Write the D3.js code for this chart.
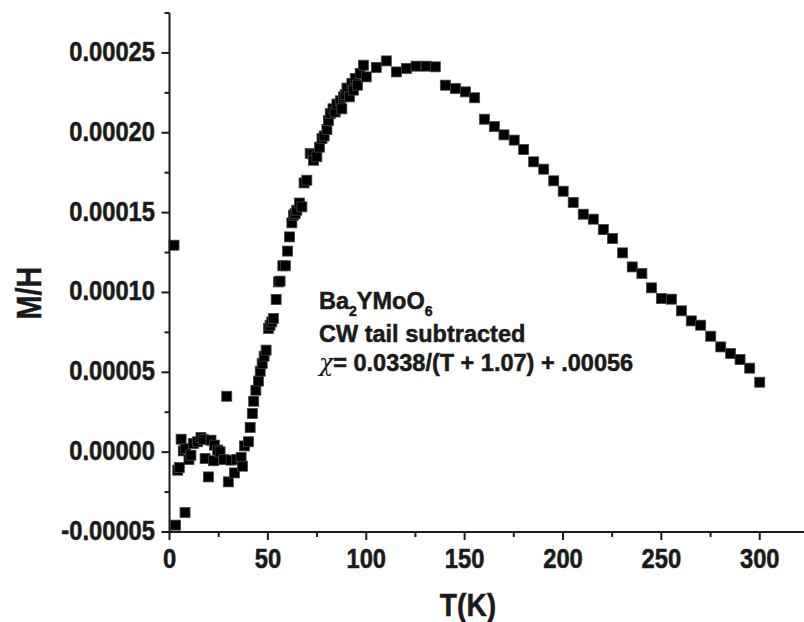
<!DOCTYPE html>
<html><head><meta charset="utf-8">
<script src="https://cdn.jsdelivr.net/npm/d3@7"></script>
<style>html,body{margin:0;padding:0;background:#fff}svg{display:block}text{font-family:"Liberation Sans",Arial,sans-serif;font-weight:bold;fill:#1a1a1a;stroke:#1a1a1a;stroke-width:0.5px}</style>
</head><body>
<script>
// Temperature (K)
const temps = [2.3,3.1,4.2,5.0,5.9,7.0,7.9,8.2,9.9,10.9,12.1,14.3,16.0,17.2,18.1,19.8,21.1,22.3,22.8,24.5,25.7,27.6,29.1,29.9,31.3,33.0,34.2,36.4,37.1,38.1,40.1,41.0,42.1,42.8,43.9,45.2,46.1,47.1,48.1,49.1,50.3,51.1,52.0,52.8,54.2,55.4,56.2,57.6,58.9,60.0,61.0,62.2,63.0,63.9,64.7,66.1,67.3,68.4,69.8,71.5,72.9,73.2,74.9,76.2,77.5,78.6,80.0,80.8,81.7,83.1,84.2,85.1,86.8,87.6,88.4,89.3,90.2,91.5,92.7,93.5,94.4,95.6,96.9,98.6,100.0,105.1,110.2,115.3,120.4,125.3,130.4,135.1,140.2,145.3,150.4,155.1,160.1,165.1,170.0,175.2,180.0,185.1,190.2,195.3,200.1,205.2,210.3,215.4,220.5,225.2,230.3,235.2,240.1,245.0,250.0,255.1,260.2,265.2,270.0,275.1,280.2,285.2,290.0,294.9,300.0];
// M/H values
const mh = [12.96e-5,-4.57e-5,-1.13e-5,-0.96e-5,0.81e-5,0.08e-5,-3.78e-5,0.23e-5,-0.46e-5,-0.19e-5,0.54e-5,0.65e-5,0.92e-5,0.80e-5,-0.40e-5,-1.55e-5,0.75e-5,-0.54e-5,0.44e-5,0.13e-5,0.02e-5,-0.46e-5,3.50e-5,-1.86e-5,-0.50e-5,-1.30e-5,-0.46e-5,-0.33e-5,-0.88e-5,0.39e-5,0.65e-5,1.55e-5,2.42e-5,3.19e-5,3.88e-5,4.45e-5,5.07e-5,5.55e-5,6.01e-5,6.39e-5,7.75e-5,7.95e-5,8.16e-5,8.37e-5,9.56e-5,10.66e-5,10.71e-5,11.67e-5,11.67e-5,12.59e-5,13.48e-5,14.36e-5,14.84e-5,14.95e-5,15.15e-5,15.60e-5,15.36e-5,16.86e-5,17.03e-5,18.70e-5,18.66e-5,18.28e-5,18.50e-5,19.10e-5,19.64e-5,19.80e-5,20.20e-5,20.77e-5,21.20e-5,21.50e-5,21.30e-5,21.80e-5,22.00e-5,21.50e-5,22.25e-5,22.40e-5,22.80e-5,22.25e-5,23.09e-5,22.67e-5,23.40e-5,22.98e-5,23.71e-5,24.23e-5,23.50e-5,24.09e-5,24.50e-5,23.81e-5,24.03e-5,24.17e-5,24.17e-5,24.13e-5,22.98e-5,22.77e-5,22.56e-5,22.19e-5,20.85e-5,20.39e-5,19.87e-5,19.54e-5,18.95e-5,18.18e-5,17.72e-5,16.99e-5,16.34e-5,15.64e-5,14.90e-5,14.59e-5,13.94e-5,13.38e-5,12.48e-5,11.60e-5,11.19e-5,10.29e-5,9.62e-5,9.58e-5,8.85e-5,8.22e-5,7.95e-5,7.26e-5,6.59e-5,6.18e-5,5.80e-5,5.26e-5,4.38e-5];
const xTicks = [0,50,100,150,200,250,300];
const xMinor = [25,75,125,175,225,275];
const yTicks = [-0.00005,0,0.00005,0.0001,0.00015,0.0002,0.00025];
const yTickLabels = ["-0.00005","0.00000","0.00005","0.00010","0.00015","0.00020","0.00025"];
const yMinor = [-0.000025,0.000025,0.000075,0.000125,0.000175,0.000225,0.000275];
const xDomain = [0, 322.5];
const yDomain = [-0.00005, 0.000275];

const W = 804, H = 622;
const svg = d3.select("body").append("svg").attr("width", W).attr("height", H);
const x = d3.scaleLinear().domain(xDomain).range([169.5, 804]);
const y = d3.scaleLinear().domain(yDomain).range([532, 13]);

// points
const data = temps.map((t,i)=>({t, v: mh[i]}));
const S = 10;
svg.append("g").selectAll("rect").data(data).join("rect")
  .attr("x", d => x(d.t) - S/2).attr("y", d => y(d.v) - S/2)
  .attr("width", S).attr("height", S)
  .attr("fill", "#000").attr("stroke", "#444").attr("stroke-width", 0.8);

// axes
const ax = svg.append("g").attr("stroke", "#1a1a1a").attr("stroke-width", 2);
ax.append("line").attr("x1", x(0)).attr("x2", W).attr("y1", y(yDomain[0])).attr("y2", y(yDomain[0]));
ax.append("line").attr("x1", x(0)).attr("x2", x(0)).attr("y1", y(yDomain[1])).attr("y2", y(yDomain[0]));
ax.selectAll(".xt").data(xTicks).join("line").attr("class","xt").attr("x1", d=>x(d)).attr("x2", d=>x(d)).attr("y1", y(yDomain[0])).attr("y2", y(yDomain[0])+8);
ax.selectAll(".xm").data(xMinor).join("line").attr("class","xm").attr("x1", d=>x(d)).attr("x2", d=>x(d)).attr("y1", y(yDomain[0])).attr("y2", y(yDomain[0])+5);
ax.selectAll(".yt").data(yTicks).join("line").attr("class","yt").attr("x1", x(0)-8).attr("x2", x(0)).attr("y1", d=>y(d)).attr("y2", d=>y(d));
ax.selectAll(".ym").data(yMinor).join("line").attr("class","ym").attr("x1", x(0)-5).attr("x2", x(0)).attr("y1", d=>y(d)).attr("y2", d=>y(d));

// tick labels
svg.append("g").selectAll("text").data(xTicks).join("text")
  .attr("transform", d=>`translate(${x(d)},568) scale(0.95,1.1)`).attr("text-anchor","middle")
  .attr("font-size", 25).text(d=>d);
svg.append("g").selectAll("text").data(yTicks).join("text")
  .attr("transform", d=>`translate(155,${y(d)+8}) scale(0.95,1.08)`).attr("text-anchor","end")
  .attr("font-size", 25).text((d,i)=>yTickLabels[i]);

// axis titles
svg.append("text").attr("transform","translate(468,616) scale(0.88,1)").attr("text-anchor","middle")
  .attr("font-size", 32).text("T(K)");
svg.append("text").attr("transform","translate(41,293) rotate(-90) scale(0.8,1)").attr("text-anchor","middle")
  .attr("font-size", 36).text("M/H");

// annotation
const fs = 23.5;
const l1 = svg.append("text").attr("font-size", fs).attr("x", 319).attr("y", 309);
l1.append("tspan").text("Ba");
l1.append("tspan").attr("font-size", 14).attr("dy", 7).text("2");
l1.append("tspan").attr("dy", -7).text("YMoO");
l1.append("tspan").attr("font-size", 14).attr("dy", 7).text("6");
svg.append("text").attr("font-size", fs).attr("x", 319).attr("y", 342).text("CW tail subtracted");
const l3 = svg.append("text").attr("font-size", fs).attr("x", 319).attr("y", 371);
l3.append("tspan").attr("font-weight","normal").attr("font-family","DejaVu Serif").attr("font-style","italic").attr("stroke-width",0).text("χ");
l3.append("tspan").text("= 0.0338/(T + 1.07) + .00056");
</script>
</body></html>
